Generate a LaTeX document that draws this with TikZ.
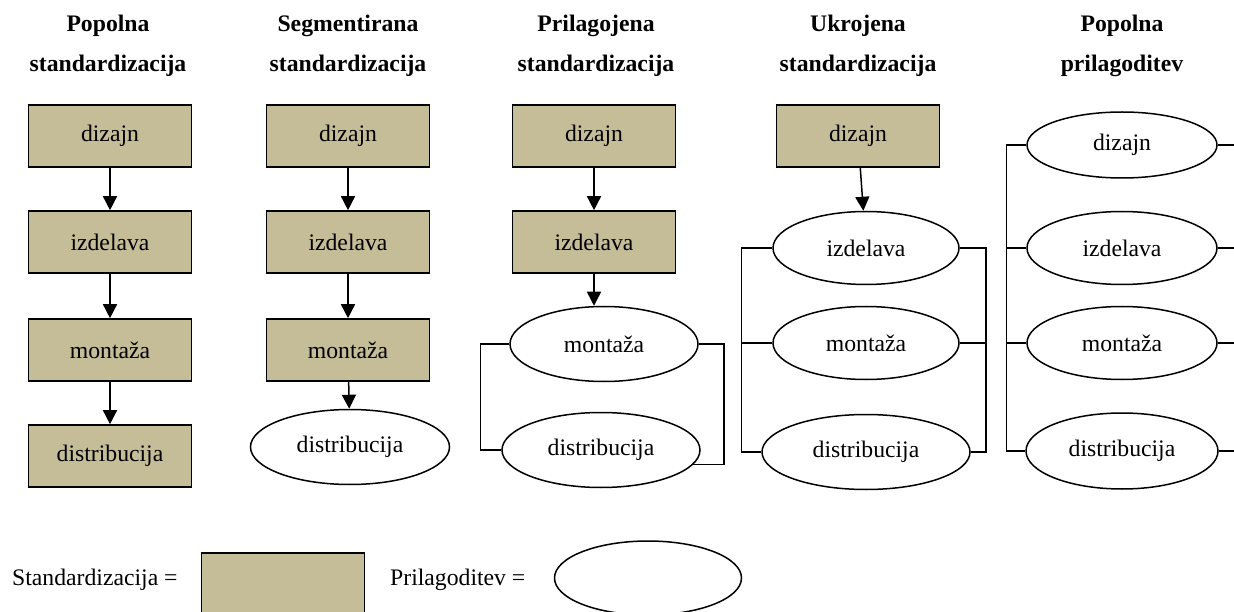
\documentclass[tikz,border=0pt]{standalone}
\usepackage{fontspec}
\setmainfont{Liberation Serif}
\usetikzlibrary{arrows.meta,shapes.geometric}
\definecolor{stdtan}{RGB}{196,189,151}
\begin{document}
\begin{tikzpicture}[x=1pt,y=-1pt,
  txt/.style={font=\fontsize{23.7}{28}\selectfont},
  stdbox/.style={txt,draw=black,fill=stdtan,line width=1.6pt,minimum width=163pt,minimum height=62pt,inner sep=0pt},
  custell/.style={txt,draw=black,ellipse,line width=1.5pt,minimum width=190pt,minimum height=74pt,inner sep=0pt},
  ttl/.style={font=\fontsize{23.7}{28}\selectfont\bfseries,anchor=base,inner sep=0pt},
  arr/.style={line width=1.5pt,-{Triangle[length=14pt,width=14pt]}},
  link/.style={line width=1.5pt}]
\useasboundingbox (0,0) rectangle (1234,612);
\clip (0,0) rectangle (1234,612);

% titles
\node[ttl] (t1a) at (108,32) {Popolna};
\node[ttl] (t1b) at (108,72) {standardizacija};
\node[ttl] (t2a) at (348,32) {Segmentirana};
\node[ttl] (t2b) at (348,72) {standardizacija};
\node[ttl] (t3a) at (596,32) {Prilagojena};
\node[ttl] (t3b) at (596,72) {standardizacija};
\node[ttl] (t4a) at (858,32) {Ukrojena};
\node[ttl] (t4b) at (858,72) {standardizacija};
\node[ttl] (t5a) at (1122,32) {Popolna};
\node[ttl] (t5b) at (1122,72) {prilagoditev};

% column 1
\node[stdbox] (dz1) at (110,136) {dizajn};
\node[stdbox] (iz1) at (110,242) {izdelava};
\node[stdbox] (mo1) at (110,350) {montaža};
\node[stdbox] (di1) at (110,456) {distribucija};
\draw[arr] (dz1) -- (iz1);
\draw[arr] (iz1) -- (mo1);
\draw[arr] (mo1) -- (di1);

% column 2
\node[stdbox] (dz2) at (348,136) {dizajn};
\node[stdbox] (iz2) at (348,242) {izdelava};
\node[stdbox] (mo2) at (348,350) {montaža};
\node[custell,minimum width=199pt,minimum height=75pt] (di2) at (350,447) {distribucija};
\draw[arr] (dz2) -- (iz2);
\draw[arr] (iz2) -- (mo2);
\draw[arr] (mo2) -- (di2);

% column 3
\node[stdbox] (dz3) at (594,136) {dizajn};
\node[stdbox] (iz3) at (594,242) {izdelava};
\node[custell,minimum width=188pt,minimum height=75pt] (mo3) at (604,344) {montaža};
\node[custell,minimum width=198pt,minimum height=75pt] (di3) at (601,450) {distribucija};
\draw[arr] (dz3) -- (iz3);
\draw[arr] (iz3.south) -- (iz3.south |- mo3.north);
\draw[link] (mo3.west) -- ++(-29,0) |- (di3.west);
\draw[link] (mo3.east) -- ++(25,0) |- (di3.-9.5);

% column 4
\node[stdbox] (dz4) at (858,136) {dizajn};
\node[custell,minimum width=186pt,minimum height=73pt] (iz4) at (866,248) {izdelava};
\node[custell,minimum width=186pt,minimum height=73pt] (mo4) at (866,343) {montaža};
\node[custell,minimum width=208pt,minimum height=75pt] (di4) at (866,452) {distribucija};
\draw[arr] (dz4) -- (iz4);
\draw[link] (iz4.west) -- ++(-31,0) |- (di4.west);
\draw[link] (mo4.west) -- ++(-31,0);
\draw[link] (iz4.east) -- ++(26,0) |- (di4.east);
\draw[link] (mo4.east) -- ++(26,0);

% column 5
\node[custell,minimum height=66pt] (dz5) at (1122,145) {dizajn};
\node[custell,minimum height=73pt] (iz5) at (1122,248) {izdelava};
\node[custell,minimum height=73pt] (mo5) at (1122,343) {montaža};
\node[custell,minimum width=192pt,minimum height=76pt] (di5) at (1122,451) {distribucija};
\draw[link] (dz5.west) -- ++(-20,0) |- (di5.west);
\draw[link] (iz5.west) -- ++(-20,0);
\draw[link] (mo5.west) -- ++(-20,0);
\draw[link] (dz5.east) -- ++(25,0);
\draw[link] (iz5.east) -- ++(25,0);
\draw[link] (mo5.east) -- ++(25,0);
\draw[link] (di5.east) -- ++(25,0);

% legend
\node[txt,anchor=west,inner sep=0pt] (lstd) at (12,580) {Standardizacija =};
\node[stdbox] (lbox) at (283,584) {};
\node[txt,anchor=west,inner sep=0pt] (lpri) at (390,580) {Prilagoditev =};
\node[custell,minimum width=187pt] (lell) at (648,578) {};
\end{tikzpicture}
\end{document}
